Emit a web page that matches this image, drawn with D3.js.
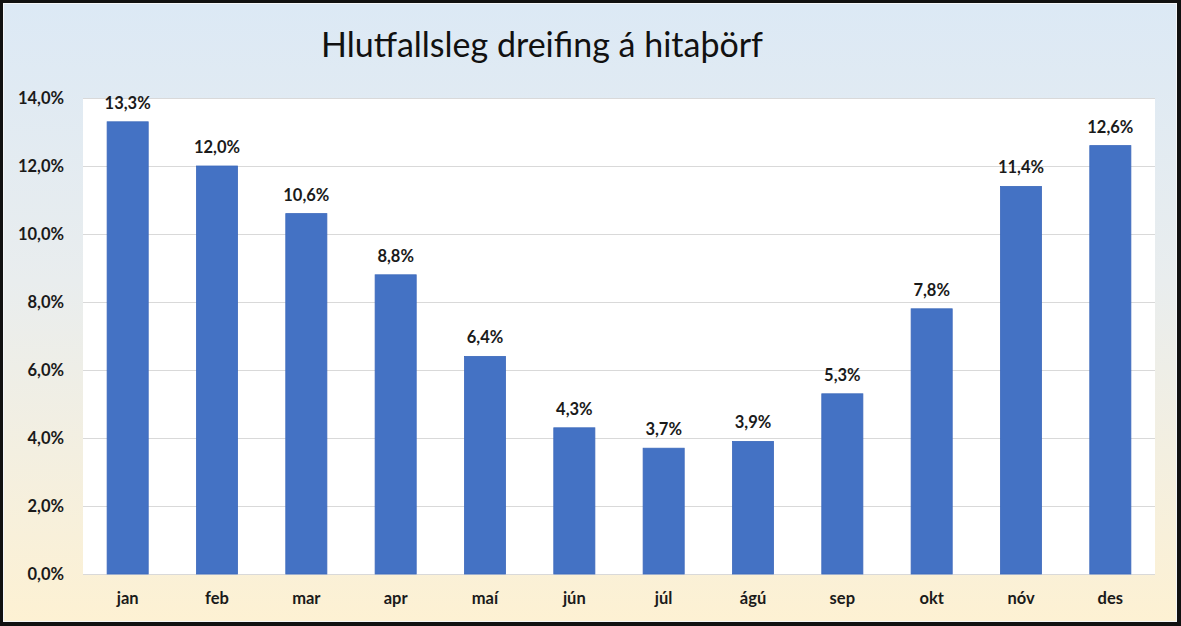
<!DOCTYPE html>
<html><head><meta charset="utf-8">
<script src="https://cdn.jsdelivr.net/npm/d3@7"></script>
<style>body{margin:0;padding:0;overflow:hidden;}svg{display:block;}</style>
</head><body>
<svg id="c" width="1181" height="626"></svg>
<script>
const months = ["jan","feb","mar","apr","maí","jún","júl","ágú","sep","okt","nóv","des"];
const values = [13.3,12.0,10.6,8.8,6.4,4.3,3.7,3.9,5.3,7.8,11.4,12.6];
const yTicks = [0,2,4,6,8,10,12,14];
const title = "Hlutfallsleg dreifing á hitaþörf";

const W = 1181, H = 626;
const svg = d3.select("#c");
const defs = svg.append("defs");
const g = defs.append("linearGradient").attr("id","bg").attr("x1",0).attr("y1",0).attr("x2",0).attr("y2",1);
g.append("stop").attr("offset","0%").attr("stop-color","#dce9f5");
g.append("stop").attr("offset","45%").attr("stop-color","#e9edee");
g.append("stop").attr("offset","100%").attr("stop-color","#fdf1d3");

svg.append("rect").attr("x",0).attr("y",0).attr("width",W).attr("height",H).attr("fill","#111");
svg.append("rect").attr("x",3).attr("y",3).attr("width",W-7).attr("height",H-7).attr("fill","#f4f6f8");
svg.append("rect").attr("x",4).attr("y",4).attr("width",W-9).attr("height",H-9).attr("fill","url(#bg)");

const m = {left:83, right:1155, top:98, bottom:574};
const x = d3.scaleBand().domain(months).range([m.left, m.right]).paddingInner(0.54).paddingOuter(0.27);
const y = d3.scaleLinear().domain([0,14]).range([m.bottom, m.top]);

svg.append("rect").attr("x",m.left).attr("y",m.top).attr("width",m.right-m.left).attr("height",m.bottom-m.top).attr("fill","#fff");

const font = "Lato, 'Open Sans', sans-serif";
svg.append("g").selectAll("line").data(yTicks).join("line")
  .attr("x1",m.left).attr("x2",m.right)
  .attr("y1",d=>Math.round(y(d))+0.5).attr("y2",d=>Math.round(y(d))+0.5)
  .attr("stroke","#d9d9d9").attr("stroke-width",1);

svg.append("g").selectAll("rect").data(values).join("rect")
  .attr("x",(d,i)=>x(months[i])).attr("width",x.bandwidth())
  .attr("y",d=>y(d)).attr("height",d=>y(0)-y(d))
  .attr("fill","#4472c4").attr("stroke","#3d69bb").attr("stroke-width",0.8);

const fmt = v => v.toFixed(1).replace(".",",")+"%";
svg.append("g").selectAll("text").data(values).join("text")
  .attr("x",(d,i)=>x(months[i])+x.bandwidth()/2).attr("y",d=>y(d)-13)
  .attr("text-anchor","middle").attr("font-family",font).attr("font-weight","bold")
  .attr("font-size",16.5).attr("fill","#1a1a1a").text(fmt);

svg.append("g").selectAll("text").data(yTicks).join("text")
  .attr("x",64).attr("y",d=>y(d)+5.5)
  .attr("text-anchor","end").attr("font-family",font).attr("font-weight","bold")
  .attr("font-size",16.5).attr("fill","#1a1a1a").text(d=>fmt(d));

svg.append("g").selectAll("text").data(months).join("text")
  .attr("x",d=>x(d)+x.bandwidth()/2).attr("y",604)
  .attr("text-anchor","middle").attr("font-family",font).attr("font-weight","bold")
  .attr("font-size",16.5).attr("fill","#1a1a1a").text(d=>d);

svg.append("text").attr("x",542).attr("y",57).attr("text-anchor","middle")
  .attr("font-family",font).attr("font-size",34).attr("fill","#111").text(title);
</script>
</body></html>
